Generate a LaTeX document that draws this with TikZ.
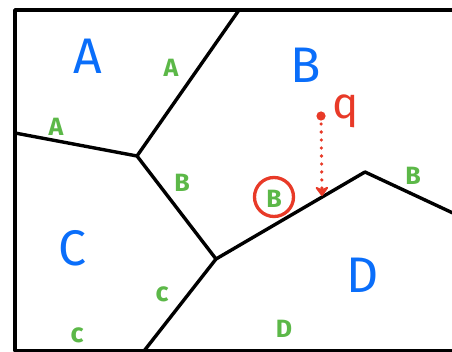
\documentclass[tikz,border=0pt]{standalone}
\usepackage{fontspec}
\setmainfont{Fira Sans}
\usetikzlibrary{arrows.meta}
\definecolor{regionblue}{RGB}{10,110,250}
\definecolor{sitegreen}{RGB}{92,184,72}
\definecolor{queryred}{RGB}{232,58,40}
\tikzset{
  edge/.style={line width=3.4pt, line join=round, line cap=round},
  region/.style={text=regionblue, font=\fontsize{50}{50}\selectfont, inner sep=0pt},
  site/.style={text=sitegreen, font=\bfseries\fontsize{25}{25}\selectfont, inner sep=0pt},
  smallsite/.style={text=sitegreen, font=\bfseries\fontsize{27}{27}\selectfont, inner sep=0pt},
  query/.style={text=queryred, font=\fontsize{44}{44}\selectfont, inner sep=0pt},
}
\begin{document}
\begin{tikzpicture}[x=1pt,y=-1pt]
\useasboundingbox (0,0) rectangle (452,352);
% outer frame (open on the right)
\coordinate (tr) at (455,10);
\coordinate (tl) at (15,10);
\coordinate (bl) at (15,351);
\coordinate (br) at (455,351);
\draw[edge] (tr) -- (tl) -- (bl) -- (br);
% Voronoi vertices and boundary ends
\coordinate (vab) at (137,156);
\coordinate (vbcd) at (216,259);
\coordinate (peak) at (365,172);
\coordinate (topab) at (239,10);
\coordinate (leftac) at (15,133);
\coordinate (botcd) at (144,351);
\coordinate (rightbd) at (455,214);
\draw[edge] (topab) -- (vab) -- (leftac);
\draw[edge] (vab) -- (vbcd) -- (botcd);
\draw[edge] (vbcd) -- (peak) -- (rightbd);
% region names
\node[region] (lblA) at (88,56) {A};
\node[region] (lblB) at (306,65) {B};
\node[region] (lblC) at (72,248) {C};
\node[region] (lblD) at (363,275) {D};
% sites
\node[site] (a1) at (171,68) {A};
\node[site] (a2) at (56,127) {A};
\node[site] (b1) at (182,183) {B};
\node[site] (b2) at (413,176) {B};
\node[site] (b3) at (274,199) {B};
\node[smallsite] (c1) at (162,294) {c};
\node[smallsite] (c2) at (77,335) {c};
\node[site] (d1) at (284,329) {D};
% nearest site of the query
\draw[queryred, line width=3.3pt] (274,197) circle (19.5);
% query point and its drop to the boundary
\fill[queryred] (321,116) circle (4.6) coordinate (qpt);
\node[query] (qlbl) at (346,111) {q};
\coordinate (hit) at (322,196);
\draw[queryred, line width=3.6pt, line cap=round, dash pattern=on 0pt off 8pt,
      -{Stealth[length=11pt,width=16pt,round]}] (qpt) -- (hit);
\end{tikzpicture}
\end{document}
